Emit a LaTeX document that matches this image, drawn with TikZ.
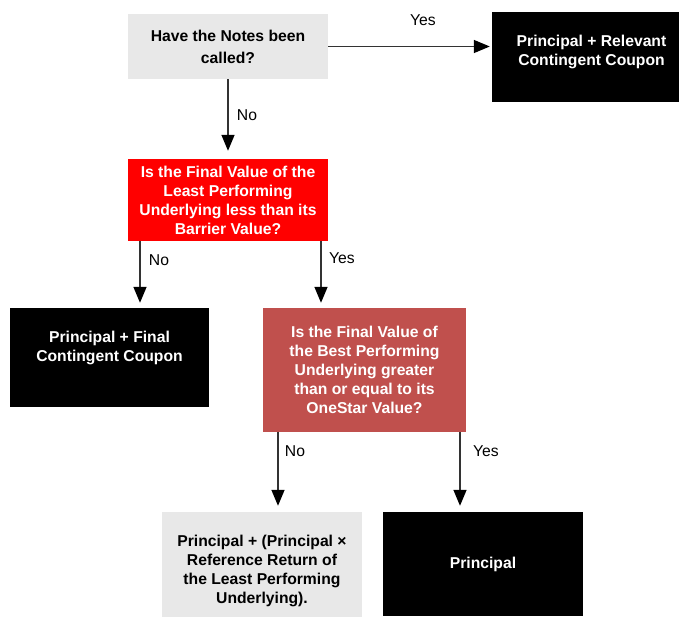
\documentclass[tikz,border=0pt]{standalone}
\usepackage{fontspec}
\setmainfont{Liberation Sans}
\usetikzlibrary{arrows.meta}
\definecolor{boxgray}{HTML}{E8E8E8}
\definecolor{boxred}{HTML}{FF0000}
\definecolor{boxbrown}{HTML}{C0504D}
\definecolor{linegray}{HTML}{333333}
\begin{document}
\begin{tikzpicture}[x=1pt,y=-1pt,
  box/.style={draw=none, inner sep=0pt, align=center,
    font=\fontsize{15.7}{19}\selectfont\bfseries},
  lbl/.style={font=\fontsize{15.7}{19}\selectfont, inner sep=0pt},
  whitetxt/.style={text=white, align=center, inner sep=0pt,
    font=\fontsize{15.7}{19}\selectfont\bfseries},
  arr/.style={draw=linegray, line width=1.5pt,
    -{Triangle[length=16pt,width=13pt,fill=black,color=black]}}]
\useasboundingbox (0,0) rectangle (680,617);
% boxes
\node[box, fill=boxgray, minimum width=200pt, minimum height=65pt,
  font=\fontsize{15.7}{22}\selectfont\bfseries] (q1) at (228,46.5) {Have the Notes been\\called?};
\node[box, fill=black, minimum width=187pt, minimum height=90pt,
  label={[whitetxt, xshift=6pt, yshift=5pt]center:Principal + Relevant\\Contingent Coupon}] (r1) at (585.5,57) {};
\node[box, fill=boxred, text=white, minimum width=200pt, minimum height=82pt] (q2) at (228,200) {Is the Final Value of the\\Least Performing\\Underlying less than its\\Barrier Value?};
\node[box, fill=black, minimum width=199pt, minimum height=99pt,
  label={[whitetxt, yshift=10pt]center:Principal + Final\\Contingent Coupon}] (b1) at (109.5,357.5) {};
\node[box, fill=boxbrown, text=white, minimum width=203pt, minimum height=124pt] (q3) at (364.5,370) {Is the Final Value of\\the Best Performing\\Underlying greater\\than or equal to its\\OneStar Value?};
\node[box, fill=boxgray, minimum width=200pt, minimum height=105pt,
  label={[box, yshift=-6pt]center:Principal + (Principal ×\\Reference Return of\\the Least Performing\\Underlying).}] (g1) at (262,564.5) {};
\node[box, fill=black, text=white, minimum width=200pt, minimum height=104pt] (p1) at (483,564) {Principal};
% connectors
\draw[arr, shorten >=2pt] (q1.east) -- (q1.east -| r1.west);
\draw[arr, shorten >=8pt] (q1.south) -- (q2.north);
\draw[arr, shorten >=5pt] ([xshift=-88pt]q2.south) -- ([xshift=-88pt]q2.south |- b1.north);
\draw[arr, shorten >=5pt] ([xshift=93pt]q2.south) -- ([xshift=93pt]q2.south |- q3.north);
\draw[arr, shorten >=6pt] ([xshift=-86.5pt]q3.south) -- ([xshift=-86.5pt]q3.south |- g1.north);
\draw[arr, shorten >=6pt] ([xshift=95.5pt]q3.south) -- ([xshift=95.5pt]q3.south |- p1.north);
% labels
\node[lbl] (lyes1) at (423,20) {Yes};
\node[lbl] (lno1) at (247,115) {No};
\node[lbl] (lno2) at (159,260) {No};
\node[lbl] (lyes2) at (342,258) {Yes};
\node[lbl] (lno3) at (295,451) {No};
\node[lbl] (lyes3) at (486,451) {Yes};
\end{tikzpicture}
\end{document}
